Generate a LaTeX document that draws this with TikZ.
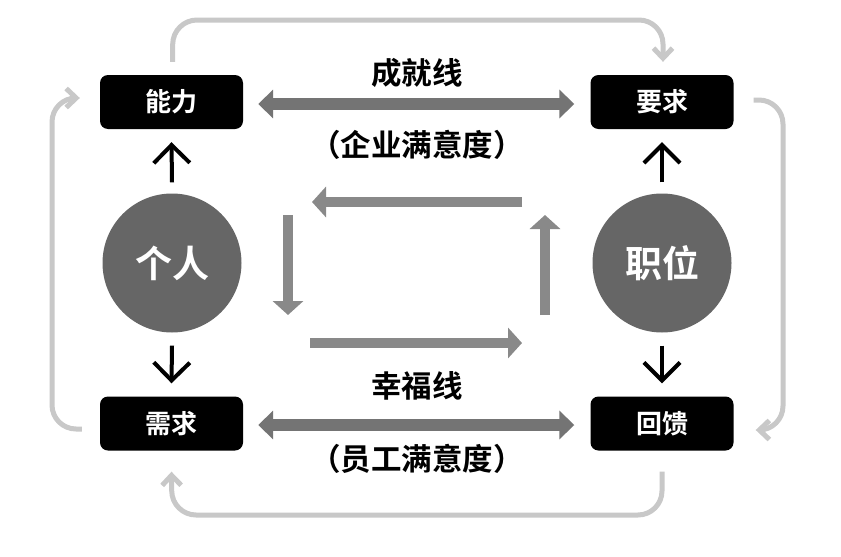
\documentclass[tikz,border=0pt]{standalone}
\usepackage{fontspec}
\newfontfamily\cjk{Noto Sans CJK SC}[BoldFont={Noto Sans CJK SC Bold}]
\usetikzlibrary{arrows.meta,calc}
\definecolor{lightc}{HTML}{C8C8C8}
\definecolor{dblc}{HTML}{747474}
\definecolor{midc}{HTML}{898989}
\definecolor{circc}{HTML}{666666}
\begin{document}
\begin{tikzpicture}[x=1pt,y=-1pt,
  box/.style={fill=black,rounded corners=8pt,minimum width=143pt,minimum height=54pt,inner sep=0pt,
    text=white,font=\cjk\bfseries\fontsize{26}{30}\selectfont},
  circ/.style={circle,fill=circc,minimum size=139pt,inner sep=0pt,text=white,
    font=\cjk\bfseries\fontsize{37}{40}\selectfont},
  lbl/.style={font=\cjk\bfseries\fontsize{30.5}{34}\selectfont,text=black,inner sep=0pt},
  dbl/.style={draw=dblc,line width=12pt,{Triangle[width=28pt,length=15pt]}-{Triangle[width=28pt,length=15pt]}},
  mid/.style={draw=midc,line width=10pt,-{Triangle[width=30pt,length=14pt]}},
  blk/.style={draw=black,line width=4pt,-{Straight Barb[width=36pt,length=18pt]}},
  loopc/.style={draw=lightc,line width=5pt,rounded corners=24pt,-{Straight Barb[width=19pt,length=10pt]}}]
\useasboundingbox (0,0) rectangle (841,557);
\fill[white] (0,0) rectangle (841,557);

\node[box] (nl) at (171.5,102) {能力};
\node[box] (yq) at (662,102) {要求};
\node[box] (xq) at (171.5,423.5) {需求};
\node[box] (hk) at (662,423.5) {回馈};

\node[circ] (gr) at (172,263) {个人};
\node[circ] (zw) at (662,263) {职位};

\node[lbl] (cj) at (417,73) {成就线};
\node[lbl] (qy) at (417,145) {（企业满意度）};
\node[lbl] (xf) at (417,386) {幸福线};
\node[lbl] (yg) at (417,459) {（员工满意度）};

% double arrows
\draw[dbl] ($(nl.east)+(15,2)$) -- ($(yq.west)+(-16,2)$);
\draw[dbl] ($(xq.east)+(15,1.5)$) -- ($(hk.west)+(-16,1.5)$);

% black arrows
\draw[blk] ($(gr.north)+(0,-11)$) -- ($(nl.south)+(0,13)$);
\draw[blk] ($(gr.south)+(0,13)$) -- ($(xq.north)+(0,-13)$);
\draw[blk] ($(zw.north)+(0,-11)$) -- ($(yq.south)+(0,13)$);
\draw[blk] ($(zw.south)+(0,13)$) -- ($(hk.north)+(0,-13)$);

% middle cycle arrows
\coordinate (m1) at (522,202); \coordinate (m2) at (312,202);
\coordinate (m3) at (288,215); \coordinate (m4) at (288,315);
\coordinate (m5) at (310,343); \coordinate (m6) at (522,343);
\coordinate (m7) at (545,315); \coordinate (m8) at (545,215);
\draw[mid] (m1) -- (m2);
\draw[mid] (m3) -- (m4);
\draw[mid] (m5) -- (m6);
\draw[mid] (m7) -- (m8);

% outer light loop
\draw[loopc] ($(nl.north)+(1,-13)$) -- (173,20) -- (663,20) -- ($(yq.north)+(1,-13)$);
\draw[loopc] ($(yq.east)+(20,-2)$) -- (783,100) -- (783,430) -- ($(hk.east)+(22,6.5)$);
\draw[loopc] ($(hk.south)+(0,21)$) -- (662,515) -- (172,515) -- ($(xq.south)+(0,21)$);
\draw[loopc] ($(xq.west)+(-18,5.5)$) -- (52,429) -- (52,98) -- ($(nl.west)+(-20,-4)$);
\end{tikzpicture}
\end{document}
